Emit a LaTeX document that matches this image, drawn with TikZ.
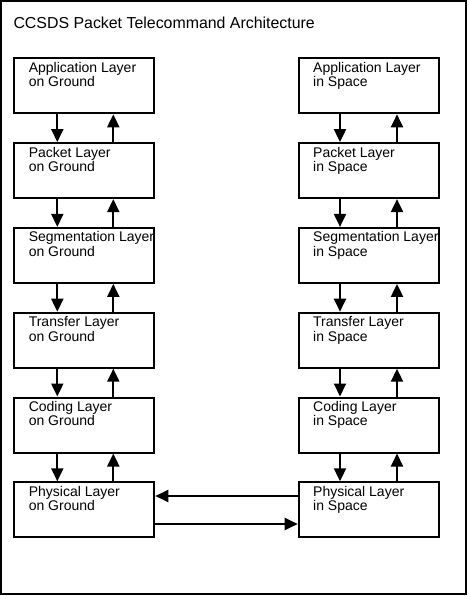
\documentclass[tikz,border=0pt]{standalone}
\usepackage{fontspec}
\setmainfont{Liberation Sans}
\usetikzlibrary{arrows.meta}
\begin{document}
\begin{tikzpicture}[x=1pt,y=-1pt,
  layerbox/.style={draw, line width=2pt, minimum width=140pt, minimum height=55pt, inner sep=0pt, anchor=north west},
  boxtext/.style={anchor=base west, align=left, inner sep=0pt, xshift=15.3pt, yshift=-29.4pt, font=\fontsize{14}{14.4}\selectfont},
  arr/.style={line width=2pt, -{Triangle[length=13pt,width=12pt]}},
  frame/.style={line width=2pt}]
\useasboundingbox (0,0) rectangle (468,596);
\draw[frame] (1,1) rectangle (466,593.7);
\node[anchor=base west, inner sep=0pt, font=\fontsize{15.9}{16}\selectfont] (title) at (13.3,28.3) {CCSDS Packet Telecommand Architecture};
% left column
\node[layerbox, label={[boxtext]north west:{Application Layer\\on Ground}}] (l1) at (13.3,57.3) {};
\node[layerbox, label={[boxtext]north west:{Packet Layer\\on Ground}}] (l2) at (13.3,142.1) {};
\node[layerbox, label={[boxtext]north west:{Segmentation Layer\\on Ground}}] (l3) at (13.3,226.9) {};
\node[layerbox, label={[boxtext]north west:{Transfer Layer\\on Ground}}] (l4) at (13.3,311.7) {};
\node[layerbox, label={[boxtext]north west:{Coding Layer\\on Ground}}] (l5) at (13.3,396.5) {};
\node[layerbox, label={[boxtext]north west:{Physical Layer\\on Ground}}] (l6) at (13.3,481.3) {};
% right column
\node[layerbox, label={[boxtext]north west:{Application Layer\\in Space}}] (r1) at (297.7,57.3) {};
\node[layerbox, label={[boxtext]north west:{Packet Layer\\in Space}}] (r2) at (297.7,142.1) {};
\node[layerbox, label={[boxtext]north west:{Segmentation Layer\\in Space}}] (r3) at (297.7,226.9) {};
\node[layerbox, label={[boxtext]north west:{Transfer Layer\\in Space}}] (r4) at (297.7,311.7) {};
\node[layerbox, label={[boxtext]north west:{Coding Layer\\in Space}}] (r5) at (297.7,396.5) {};
\node[layerbox, label={[boxtext]north west:{Physical Layer\\in Space}}] (r6) at (297.7,481.3) {};
% vertical arrows
\foreach \a/\b in {1/2,2/3,3/4,4/5,5/6}{
  \draw[arr] ([xshift=44pt]l\a.south west) -- ([xshift=44pt]l\b.north west);
  \draw[arr] ([xshift=100pt]l\b.north west) -- ([xshift=100pt]l\a.south west);
  \draw[arr] ([xshift=42.3pt]r\a.south west) -- ([xshift=42.3pt]r\b.north west);
  \draw[arr] ([xshift=99.3pt]r\b.north west) -- ([xshift=99.3pt]r\a.south west);
}
% horizontal arrows
\draw[arr] ([yshift=-14.7pt]r6.north west) -- ([yshift=-14.7pt]l6.north east);
\draw[arr] ([yshift=-42.7pt]l6.north east) -- ([yshift=-42.7pt]r6.north west);
\end{tikzpicture}
\end{document}
